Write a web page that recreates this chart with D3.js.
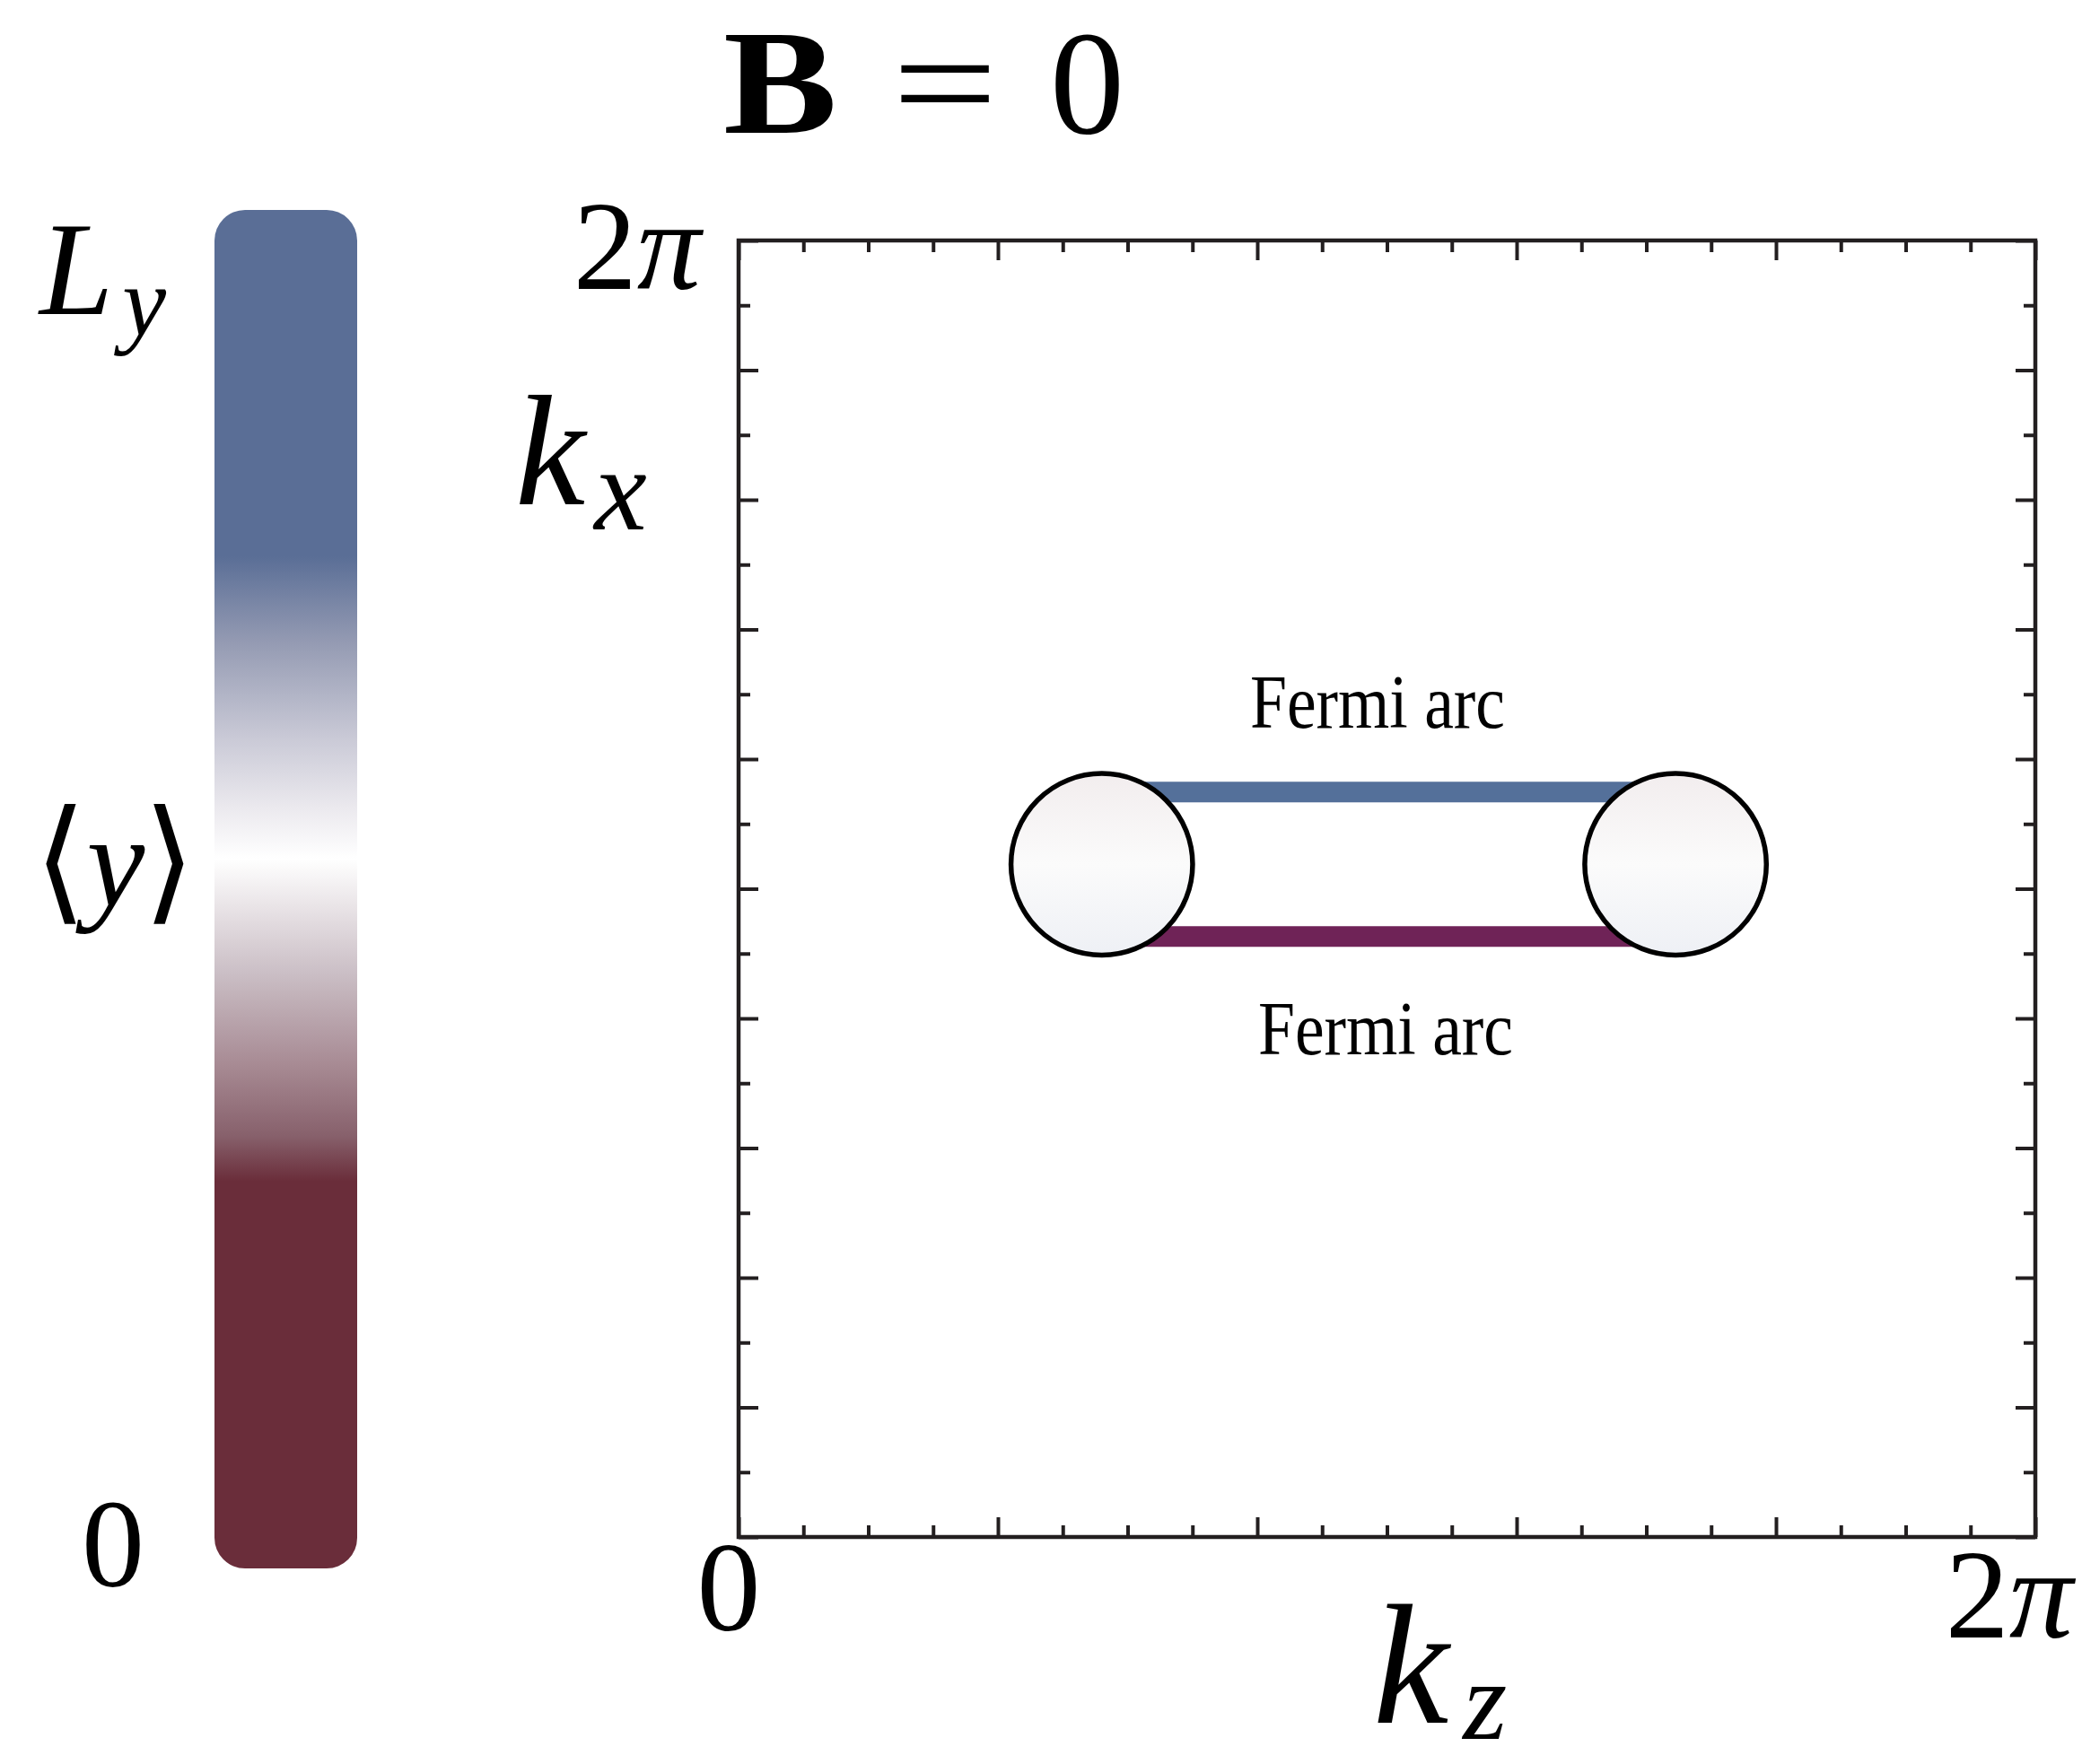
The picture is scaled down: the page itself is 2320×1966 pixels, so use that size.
<!DOCTYPE html>
<html>
<head>
<meta charset="utf-8">
<script src="https://cdn.jsdelivr.net/npm/d3@7"></script>
<style>
html,body{margin:0;padding:0;background:#fff;}
svg{display:block;}
</style>
</head>
<body>
<script>
// ---------- data ----------
const TWO_PI = 2 * Math.PI;
const axisDomain = [0, TWO_PI];
const xTickLabels = ["0", "2π"];
const yTickLabels = ["0", "2π"];
const nTickIntervals = 20;
const xMajorEvery = 4;
const yMajorEvery = 2;

// Weyl-node projections (kz, kx) and their radius (in units of k)
const nodeKz = [1.76, 4.54];
const nodeKx = [3.26, 3.26];
const nodeRadius = 0.44;

// Fermi arcs: kx position and colour-bar value (<y> in units of Ly)
const arcNames = ["Fermi arc", "Fermi arc"];
const arcKx = [3.61, 2.91];
const arcY = [1, 0];

// colour bar stops (offset from Ly down to 0, colour)
const cbarOffsets = [0, 0.255, 0.319, 0.388, 0.44, 0.4775, 0.561, 0.63, 0.682, 0.715, 1];
const cbarColors = ["#5a6e96", "#5a6e96", "#959bb3", "#c9c9d6", "#ebe9ee", "#ffffff", "#cbbfc6", "#a78a93", "#87606b", "#6a2d3a", "#6a2d3a"];

const W = 2320, H = 1966;
const svg = d3.select("body").append("svg").attr("width", W).attr("height", H)
  .style("font-family", "'Liberation Serif','DejaVu Serif',serif");
const defs = svg.append("defs");

// ---------- scales ----------
const x = d3.scaleLinear().domain(axisDomain).range([823, 2268]);
const y = d3.scaleLinear().domain(axisDomain).range([1713, 268]);
const rScale = d3.scaleLinear().domain([0, TWO_PI]).range([0, 1445]);
const cbarY = d3.scaleLinear().domain([0, 1]).range([1748, 234]);
const arcColor = d3.scaleLinear().domain([0, 1]).range(["#6f2357", "#54709a"]);

// ---------- title ----------
const title = svg.append("text").attr("y", 148).attr("font-size", 166).attr("fill", "#000");
title.append("tspan").attr("x", 806).attr("font-weight", "bold")
  .attr("textLength", 127).attr("lengthAdjust", "spacingAndGlyphs").text("B");
title.append("tspan").attr("x", 994).attr("font-size", 166)
  .attr("textLength", 118).attr("lengthAdjust", "spacingAndGlyphs").text("=");
title.append("tspan").attr("x", 1170).text("0");

// ---------- colour bar ----------
const grad = defs.append("linearGradient").attr("id", "cbar")
  .attr("x1", 0).attr("y1", 0).attr("x2", 0).attr("y2", 1);
grad.selectAll("stop").data(cbarOffsets).join("stop")
  .attr("offset", d => d)
  .attr("stop-color", (d, i) => cbarColors[i]);
svg.append("rect")
  .attr("x", 239).attr("y", cbarY(1))
  .attr("width", 159).attr("height", cbarY(0) - cbarY(1))
  .attr("rx", 34).attr("ry", 34)
  .attr("fill", "url(#cbar)");

// colour bar labels
const ly = svg.append("text").attr("x", 44).attr("y", 350).attr("font-size", 148).attr("font-style", "italic");
ly.append("tspan").text("L");
ly.append("tspan").attr("font-size", 110).attr("dy", 24).attr("dx", 10).text("y");

const ym = svg.append("text").attr("x", 38).attr("y", 1010).attr("font-size", 146);
ym.append("tspan").attr("font-family", "'DejaVu Serif',serif").attr("font-size", 150).text("⟨");
ym.append("tspan").attr("font-style", "italic").attr("dx", 0).text("y");
ym.append("tspan").attr("font-family", "'DejaVu Serif',serif").attr("font-size", 150).attr("dx", -2).text("⟩");

svg.append("text").attr("x", 126).attr("y", cbarY(0) + 20).attr("font-size", 140)
  .attr("text-anchor", "middle").text("0");

// ---------- plot frame and ticks ----------
const frameColor = "#231f20";
const g = svg.append("g");
const tickVals = d3.range(nTickIntervals + 1).map(i => axisDomain[1] * i / nTickIntervals);

function drawTicks(axisGen, transform, majorEvery) {
  const major = tickVals.filter((d, i) => i % majorEvery === 0);
  const minor = tickVals.filter((d, i) => i % majorEvery !== 0);
  [[major, 22], [minor, 13]].forEach(([vals, len]) => {
    const a = axisGen.tickValues(vals).tickSize(-len).tickFormat("").tickSizeOuter(0);
    const gg = g.append("g").attr("transform", transform).call(a);
    gg.select(".domain").remove();
    gg.selectAll(".tick line").attr("stroke", frameColor).attr("stroke-width", 4);
  });
}
drawTicks(d3.axisBottom(x), `translate(0,${y(0)})`, xMajorEvery);
drawTicks(d3.axisTop(x), `translate(0,${y(TWO_PI)})`, xMajorEvery);
drawTicks(d3.axisLeft(y), `translate(${x(0)},0)`, yMajorEvery);
drawTicks(d3.axisRight(y), `translate(${x(TWO_PI)},0)`, yMajorEvery);

g.append("rect")
  .attr("x", x(0)).attr("y", y(TWO_PI))
  .attr("width", x(TWO_PI) - x(0)).attr("height", y(0) - y(TWO_PI))
  .attr("fill", "none").attr("stroke", frameColor).attr("stroke-width", 4.5);

// tick labels
const tickFont = 142;
svg.append("text").attr("x", x(0) - 11).attr("y", y(0) + 104).attr("font-size", tickFont)
  .attr("text-anchor", "middle").text(xTickLabels[0]);
const xr = svg.append("text").attr("x", x(TWO_PI) + 42).attr("y", y(0) + 112).attr("font-size", tickFont)
  .attr("text-anchor", "end");
xr.append("tspan").text("2");
xr.append("tspan").attr("font-style", "italic").text("π");
const yt = svg.append("text").attr("x", x(0) - 42).attr("y", y(TWO_PI) + 54).attr("font-size", tickFont)
  .attr("text-anchor", "end");
yt.append("tspan").text("2");
yt.append("tspan").attr("font-style", "italic").text("π");

// axis titles
const kx = svg.append("text").attr("x", 574).attr("y", 562).attr("font-size", 176).attr("font-style", "italic");
kx.append("tspan").text("k");
kx.append("tspan").attr("font-size", 132).attr("dy", 28).attr("dx", 10).text("x");

const kz = svg.append("text").attr("x", 1530).attr("y", 1920).attr("font-size", 190).attr("font-style", "italic");
kz.append("tspan").text("k");
kz.append("tspan").attr("font-size", 126).attr("dy", 18).attr("dx", 16).text("z");

// ---------- Fermi arcs ----------
svg.append("g").selectAll("line").data(arcKx).join("line")
  .attr("x1", x(nodeKz[0])).attr("x2", x(nodeKz[1]))
  .attr("y1", d => y(d)).attr("y2", d => y(d))
  .attr("stroke", (d, i) => arcColor(arcY[i]))
  .attr("stroke-width", 23);

// Weyl nodes
const ng = defs.append("linearGradient").attr("id", "node")
  .attr("x1", 0).attr("y1", 0).attr("x2", 0).attr("y2", 1);
ng.append("stop").attr("offset", 0).attr("stop-color", "#f2edee");
ng.append("stop").attr("offset", 0.5).attr("stop-color", "#fbfbfb");
ng.append("stop").attr("offset", 1).attr("stop-color", "#eef0f5");
svg.append("g").selectAll("circle").data(nodeKz).join("circle")
  .attr("cx", d => x(d)).attr("cy", (d, i) => y(nodeKx[i]))
  .attr("r", rScale(nodeRadius))
  .attr("fill", "url(#node)")
  .attr("stroke", "#000").attr("stroke-width", 5.5);

// arc labels
const labelY = [811, 1175];
const labelX = [1535, 1544];
svg.append("g").selectAll("text").data(arcNames).join("text")
  .attr("x", (d, i) => labelX[i]).attr("y", (d, i) => labelY[i])
  .attr("text-anchor", "middle").attr("font-size", 85)
  .attr("textLength", 284).attr("lengthAdjust", "spacingAndGlyphs")
  .text(d => d);
</script>
</body>
</html>
